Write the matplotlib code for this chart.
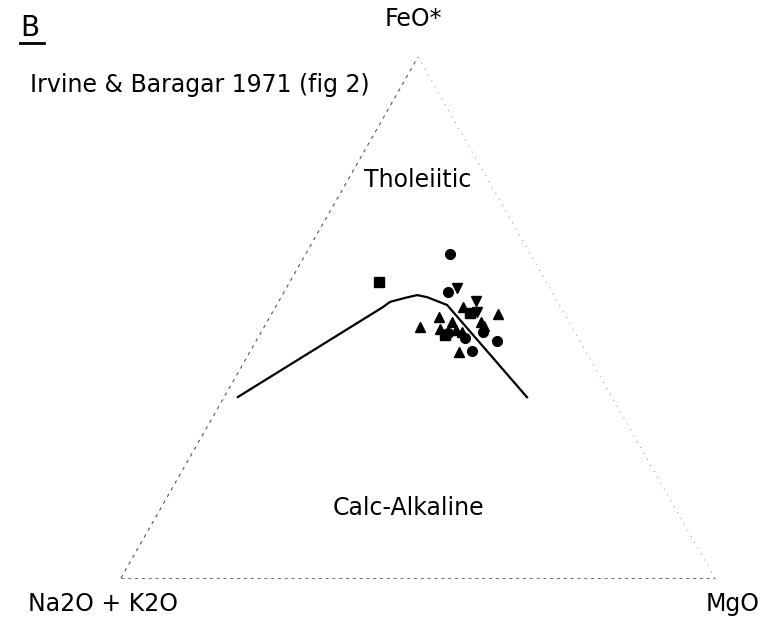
import numpy as np
import matplotlib
matplotlib.use("Agg")
import matplotlib.pyplot as plt

# Boundary line (Irvine & Baragar 1971), ternary percentages A-F-M
line_A = [62.9, 29.9, 28.2, 25.3, 23.0, 21.5, 18.9, 14.3]
line_F = [34.7, 52.0, 53.0, 53.7, 54.3, 53.9, 52.4, 34.7]
line_M = [2.3, 18.1, 18.8, 20.9, 22.7, 24.6, 28.7, 51.0]

# Samples (A = Na2O+K2O, F = FeO*, M = MgO)
circ_A = [13.5, 17.5, 21.4, 19.1, 14.0, 19.1, 15.5]
circ_F = [62.2, 54.9, 47.0, 46.1, 45.5, 43.6, 47.2]
circ_M = [24.3, 27.6, 31.5, 34.9, 40.5, 37.3, 37.3]

dtri_A = [15.6, 13.7, 14.5]
dtri_F = [55.7, 53.2, 51.1]
dtri_M = [28.7, 33.2, 34.4]

tri_A = [11.2, 21.4, 19.7, 25.6, 22.4, 19.8, 16.4, 14.8, 21.4, 19.0, 14.7]
tri_F = [50.7, 50.1, 49.1, 48.2, 47.8, 47.6, 52.0, 49.1, 43.2, 47.2, 48.4]
tri_M = [38.1, 28.5, 31.2, 26.2, 29.8, 32.6, 31.6, 36.0, 35.0, 33.8, 36.9]

sq_A = [28.2, 15.8, 22.3]
sq_F = [56.8, 50.9, 46.8]
sq_M = [15.0, 33.3, 31.3]

H = np.sqrt(3) / 2


def tern(A, F, M):
    A = np.asarray(A, float); F = np.asarray(F, float); M = np.asarray(M, float)
    s = A + F + M
    f = F / s; m = M / s
    return m + f / 2, f * H


fig = plt.figure(figsize=(7.62, 6.28), dpi=100)
ax = fig.add_axes([0, 0, 1, 1])
ax.set_xlim(-121 / 594, 641 / 594)
ax.set_ylim(-50 / 601.6, 578 / 601.6)
ax.axis('off')

# Triangle frame
vx, vy = tern([100, 0, 0], [0, 100, 0], [0, 0, 100])
ax.plot([vx[0], vx[1]], [vy[0], vy[1]], color='#555555', lw=0.8, ls=(0, (3, 4)))
ax.plot([vx[1], vx[2]], [vy[1], vy[2]], color='#888888', lw=0.7, ls=(0, (1, 6)))
ax.plot([vx[0], vx[2]], [vy[0], vy[2]], color='#666666', lw=0.7, ls=(0, (3, 4)))

# Boundary
lx, ly = tern(line_A, line_F, line_M)
ax.plot(lx, ly, color='black', lw=1.6)

x, y = tern(circ_A, circ_F, circ_M)
ax.plot(x, y, 'o', color='black', ms=7, ls='none')
x, y = tern(dtri_A, dtri_F, dtri_M)
ax.plot(x, y, 'v', color='black', ms=7.5, ls='none')
x, y = tern(tri_A, tri_F, tri_M)
ax.plot(x, y, '^', color='black', ms=7.5, ls='none')
x, y = tern(sq_A, sq_F, sq_M)
ax.plot(x, y, 's', color='black', ms=6.5, ls='none')

W, Hh = 762, 628
font = 'DejaVu Sans'
fs = 17
fig.text(20 / W, 1 - 28 / Hh, 'B', fontsize=20, ha='left', va='center', family=font)
fig.add_artist(plt.Line2D([20 / W, 44 / W], [1 - 43 / Hh, 1 - 43 / Hh], color='black', lw=2))
fig.text(413 / W, 1 - 19 / Hh, 'FeO*', fontsize=fs, ha='center', va='center', family=font)
fig.text(30 / W, 1 - 85 / Hh, 'Irvine & Baragar 1971 (fig 2)', fontsize=fs, ha='left', va='center', family=font)
fig.text(418 / W, 1 - 180 / Hh, 'Tholeiitic', fontsize=fs, ha='center', va='center', family=font)
fig.text(408 / W, 1 - 508 / Hh, 'Calc-Alkaline', fontsize=fs, ha='center', va='center', family=font)
fig.text(28 / W, 1 - 604 / Hh, 'Na2O + K2O', fontsize=fs, ha='left', va='center', family=font)
fig.text(760 / W, 1 - 604 / Hh, 'MgO', fontsize=fs, ha='right', va='center', family=font)

fig.savefig('out.png', dpi=100)
